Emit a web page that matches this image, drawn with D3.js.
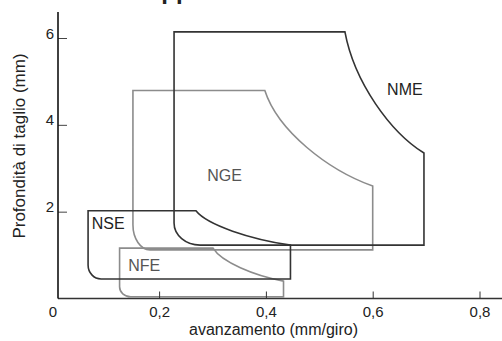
<!DOCTYPE html>
<html>
<head>
<meta charset="utf-8">
<script src="https://cdn.jsdelivr.net/npm/d3@7"></script>
<style>
  body { margin: 0; background: #fff; }
  text { font-family: "Liberation Sans", Arial, sans-serif; }
</style>
</head>
<body>
<div id="chart"></div>
<script>
const WIDTH = 502
const HEIGHT = 341

// application ranges: feed (mm/giro) and depth of cut (mm)
const regions = ['NME', 'NGE', 'NSE', 'NFE']
const feedMin = [0.228, 0.151, 0.067, 0.126]
const feedCut = [0.548, 0.398, 0.269, 0.301]
const feedMax = [0.696, 0.600, 0.446, 0.433]
const depthMin = [1.23, 1.12, 0.45, 0.04]
const depthCut = [3.35, 2.59, 1.23, 0.40]
const depthMax = [6.14, 4.79, 2.02, 1.16]
const labelFeed = [0.627, 0.290, 0.074, 0.142]
const labelDepth = [4.69, 2.71, 1.60, 0.64]

const xTicks = [0, 0.2, 0.4, 0.6, 0.8]
const xTickLabels = ['0', '0,2', '0,4', '0,6', '0,8']
const yTicks = [2, 4, 6]
const yTickLabels = ['2', '4', '6']

// styling per region
const lineColor = ['#333', '#8c8c8c', '#333', '#8c8c8c']
const textColor = ['#222', '#555', '#222', '#555']
const cornerRx = [26, 17, 13, 11]
const cornerRy = [22, 25, 14, 10]

const svg = d3.select('#chart')
  .append('svg')
  .attr('width', WIDTH)
  .attr('height', HEIGHT)

const x = d3.scaleLinear().domain([0, 0.8]).range([52.3, 479.5])
const y = d3.scaleLinear().domain([0, 6]).range([298.5, 38])

const axisX0 = 58

// cut-off title at the very top
svg.append('text')
  .attr('x', 144)
  .attr('y', -1)
  .attr('font-size', 24)
  .attr('font-weight', 'bold')
  .attr('fill', '#222')
  .text('Applicazioni')

// region outlines, gray ones first
const order = [1, 3, 0, 2]
const k = 0.5523
order.forEach(i => {
  const L = x(feedMin[i]), C = x(feedCut[i]), R = x(feedMax[i])
  const B = y(depthMin[i]), CY = y(depthCut[i]), T = y(depthMax[i])
  const dx = R - C, dy = CY - T
  const rx = cornerRx[i], ry = cornerRy[i]
  const p = d3.path()
  p.moveTo(L, B - ry)
  p.lineTo(L, T)
  p.lineTo(C, T)
  p.bezierCurveTo(C + 0.12 * dx, T + 0.42 * dy, R - 0.42 * dx, CY - 0.17 * dy, R, CY)
  p.lineTo(R, B)
  p.lineTo(L + rx, B)
  p.bezierCurveTo(L + rx * (1 - k), B, L, B - ry * (1 - k), L, B - ry)
  p.closePath()
  svg.append('path')
    .attr('d', p.toString())
    .attr('fill', 'none')
    .attr('stroke', lineColor[i])
    .attr('stroke-width', 1.6)
})

svg.selectAll('.region-label')
  .data(regions)
  .enter()
  .append('text')
  .attr('class', 'region-label')
  .attr('x', (d, i) => x(labelFeed[i]))
  .attr('y', (d, i) => y(labelDepth[i]))
  .attr('font-size', 16)
  .attr('fill', (d, i) => textColor[i])
  .text(d => d)

// x axis
const gx = svg.append('g')
  .attr('transform', `translate(0, ${y(0)})`)
  .call(d3.axisBottom(x)
    .tickValues(xTicks)
    .tickFormat((d, i) => xTickLabels[i])
    .tickSize(-7)
    .tickPadding(7.5))
gx.select('.domain').remove()
gx.selectAll('.tick line').attr('stroke', '#333').attr('stroke-width', 1)
  .filter(d => d === 0).remove()
gx.selectAll('.tick text')
  .attr('font-size', 15)
  .attr('fill', '#222')
  .attr('font-family', '"Liberation Sans", Arial, sans-serif')

// y axis
const gy = svg.append('g')
  .attr('transform', `translate(${axisX0}, 0)`)
  .call(d3.axisLeft(y)
    .tickValues(yTicks)
    .tickFormat((d, i) => yTickLabels[i])
    .tickSize(-9)
    .tickPadding(4))
gy.select('.domain').remove()
gy.selectAll('.tick line').attr('stroke', '#444').attr('stroke-width', 1)
gy.selectAll('.tick text')
  .attr('font-size', 15)
  .attr('fill', '#222')
  .attr('dy', 0)
  .attr('font-family', '"Liberation Sans", Arial, sans-serif')

// axis lines
svg.append('line')
  .attr('x1', axisX0).attr('x2', WIDTH)
  .attr('y1', y(0)).attr('y2', y(0))
  .attr('stroke', '#333')
  .attr('stroke-width', 1.6)
svg.append('line')
  .attr('x1', axisX0).attr('x2', axisX0)
  .attr('y1', 12).attr('y2', y(0))
  .attr('stroke', '#111')
  .attr('stroke-width', 1.6)

// axis titles
svg.append('text')
  .attr('x', 273.5)
  .attr('y', 335)
  .attr('text-anchor', 'middle')
  .attr('font-size', 16)
  .attr('fill', '#222')
  .text('avanzamento (mm/giro)')

svg.append('text')
  .attr('transform', 'translate(25, 146) rotate(-90)')
  .attr('text-anchor', 'middle')
  .attr('font-size', 17)
  .attr('fill', '#222')
  .text('Profondità di taglio (mm)')
</script>
</body>
</html>
